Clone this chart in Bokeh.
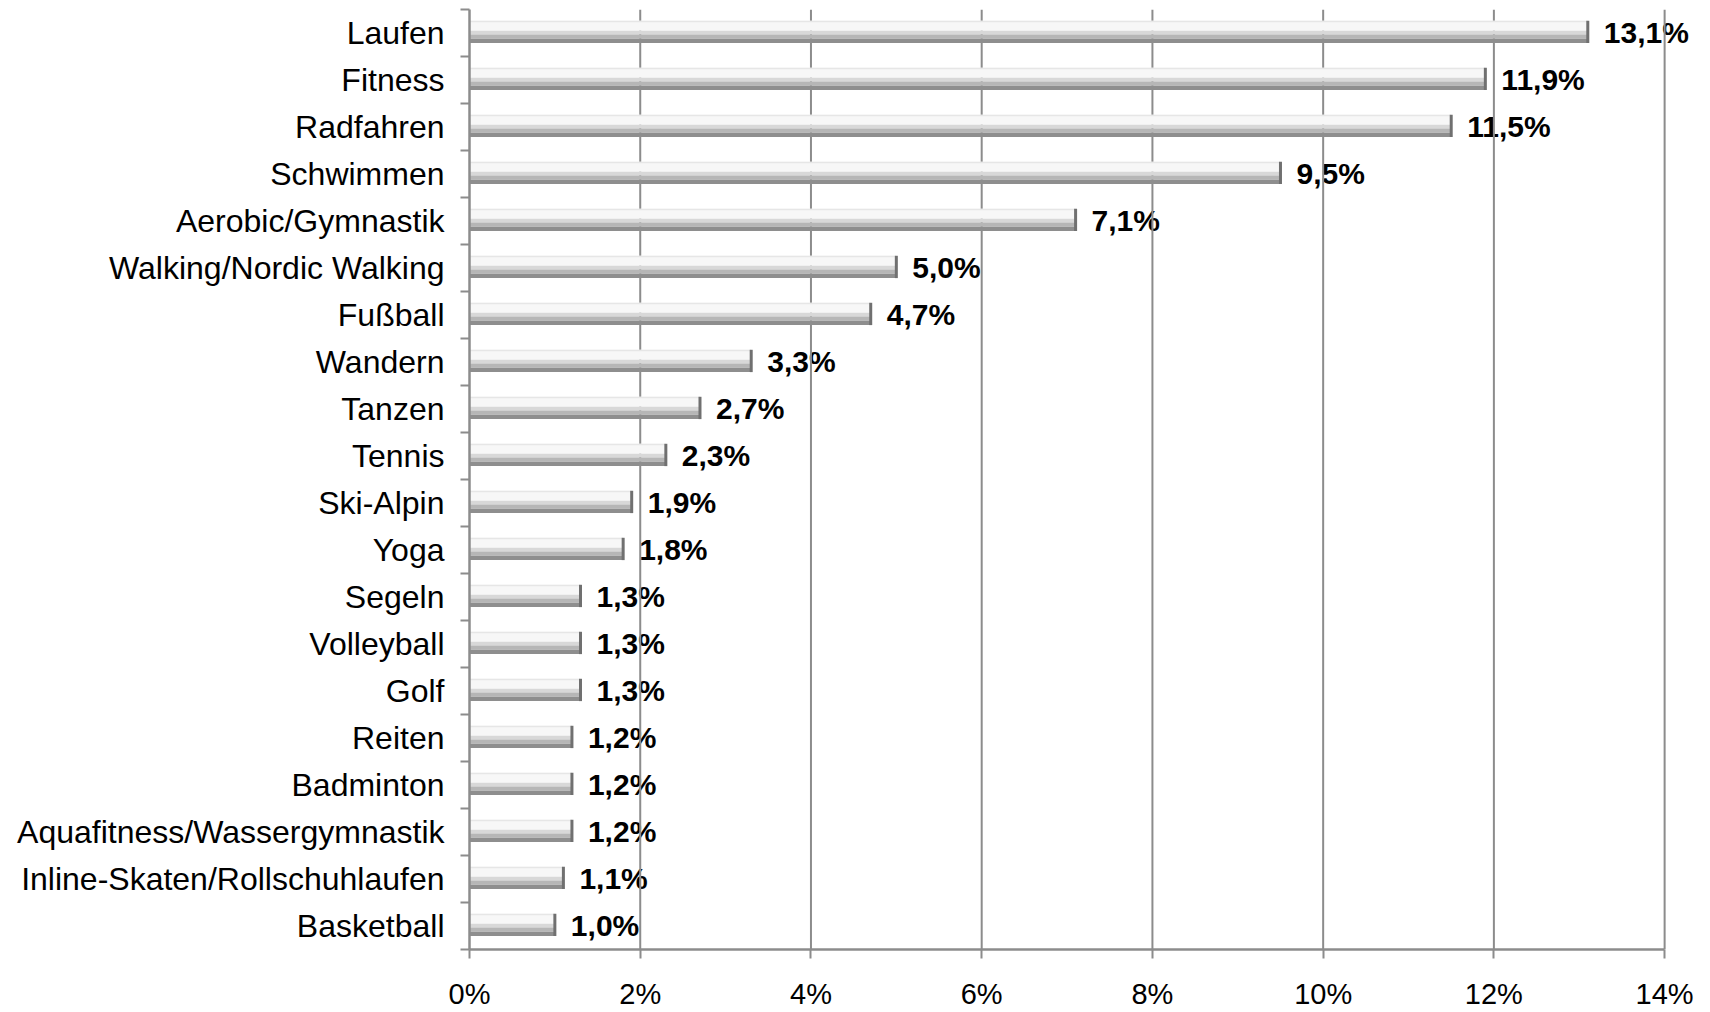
import numpy as np
from bokeh.plotting import figure
from bokeh.models import Range1d, FixedTicker, LinearAxis
from bokeh.core.properties import value
from bokeh.embed import file_html
from bokeh.resources import INLINE

categories = ["Laufen", "Fitness", "Radfahren", "Schwimmen", "Aerobic/Gymnastik",
              "Walking/Nordic Walking", "Fußball", "Wandern", "Tanzen", "Tennis",
              "Ski-Alpin", "Yoga", "Segeln", "Volleyball", "Golf", "Reiten",
              "Badminton", "Aquafitness/Wassergymnastik", "Inline-Skaten/Rollschuhlaufen",
              "Basketball"]
values = [13.1, 11.9, 11.5, 9.5, 7.1, 5.0, 4.7, 3.3, 2.7, 2.3,
          1.9, 1.8, 1.3, 1.3, 1.3, 1.2, 1.2, 1.2, 1.1, 1.0]
x_ticks = [0, 2, 4, 6, 8, 10, 12, 14]
x_tick_labels = ["0%", "2%", "4%", "6%", "8%", "10%", "12%", "14%"]

n = len(categories)
idx = np.arange(n, dtype=float)
vals = np.array(values)
value_labels = [("%.1f" % v).replace(".", ",") + "%" for v in values]

GRAY = "#8c8c8c"
FONT = "Liberation Sans"

p = figure(width=1710, height=1012, output_backend="svg", toolbar_location=None,
           x_range=Range1d(0, 14.35), y_range=Range1d(n, 0),
           min_border_left=469, min_border_right=16, min_border_top=9,
           min_border_bottom=63, x_axis_type=None, y_axis_type=None)
p.outline_line_color = None
p.background_fill_color = "white"
p.xgrid.visible = False
p.ygrid.visible = False

# x axis
xa = LinearAxis(ticker=FixedTicker(ticks=x_ticks), bounds=(0, 14),
                major_label_overrides={t: l for t, l in zip(x_ticks, x_tick_labels)})
xa.axis_line_color = GRAY
xa.axis_line_width = 2.5
xa.major_tick_line_color = GRAY
xa.major_tick_line_width = 2
xa.major_tick_out = 9
xa.major_tick_in = 0
xa.minor_tick_line_color = None
xa.major_label_standoff = 19
xa.major_label_text_font = FONT
xa.major_label_text_font_size = "29px"
xa.major_label_text_color = "black"
p.add_layout(xa, "below")

# y axis: labels at band centres, ticks at band boundaries
ya = LinearAxis(ticker=FixedTicker(ticks=list(idx + 0.5), minor_ticks=list(np.arange(n + 1))),
                major_label_overrides={float(c): name for c, name in zip(idx + 0.5, categories)})
ya.axis_line_color = GRAY
ya.axis_line_width = 2.5
ya.major_tick_line_color = None
ya.major_tick_out = 0
ya.major_tick_in = 0
ya.minor_tick_line_color = GRAY
ya.minor_tick_line_width = 2
ya.minor_tick_out = 9
ya.minor_tick_in = 0
ya.major_label_standoff = 16
ya.major_label_text_font = FONT
ya.major_label_text_font_size = "32px"
ya.major_label_text_color = "black"
p.add_layout(ya, "left")

# value labels (drawn first so the gridlines pass over them, as in the original)
p.text(x=vals, y=idx + 0.48, text=value_labels, x_offset=16,
       text_baseline="middle", text_align="left",
       text_font=value(FONT), text_font_size="30px", text_font_style="bold",
       text_color="black")

# vertical gridlines
grid_x = np.array(x_ticks[1:], dtype=float)
p.segment(x0=grid_x, x1=grid_x, y0=np.zeros(len(grid_x)), y1=np.full(len(grid_x), float(n)),
          line_color=GRAY, line_width=2)

# bars: layered to imitate the bevelled grey gradient
zeros = np.zeros(n)
p.quad(left=zeros, right=vals, top=idx + 0.24, bottom=idx + 0.45,
       fill_color="#f7f7f7", line_color=None)
p.quad(left=zeros, right=vals, top=idx + 0.24, bottom=idx + 0.27,
       fill_color="#e6e6e6", line_color=None)
p.quad(left=zeros, right=vals, top=idx + 0.45, bottom=idx + 0.53,
       fill_color="#d8d8d8", line_color=None)
p.quad(left=zeros, right=vals, top=idx + 0.53, bottom=idx + 0.62,
       fill_color="#b6b6b6", line_color=None)
p.quad(left=zeros, right=vals, top=idx + 0.62, bottom=idx + 0.715,
       fill_color="#8e8e8e", line_color=None)
p.segment(x0=vals, x1=vals, y0=idx + 0.24, y1=idx + 0.715,
          line_color="#707070", line_width=3)

open("out.html", "w").write(file_html(p, INLINE))
